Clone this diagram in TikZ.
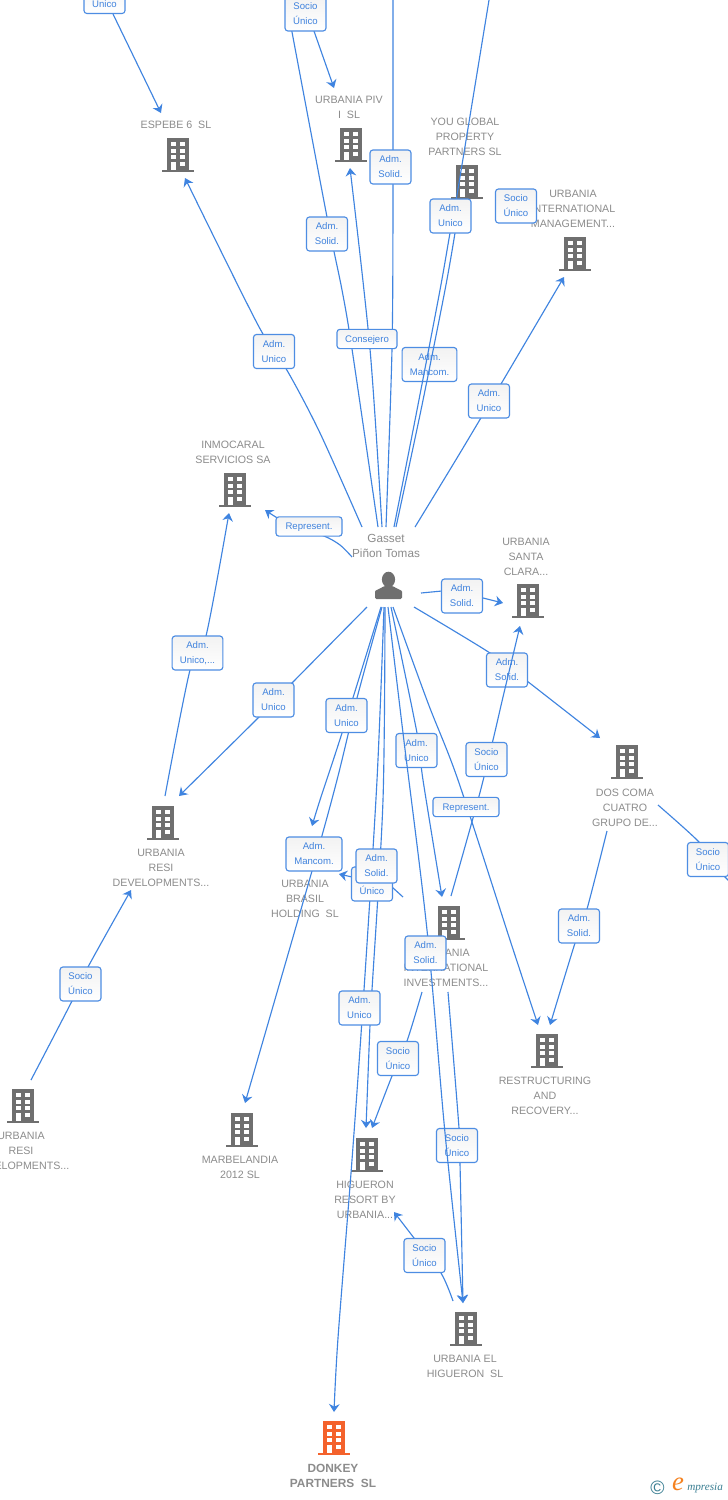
\documentclass[tikz,border=0pt]{standalone}
\usepackage{fontspec}
\setmainfont{Liberation Sans}
\newfontfamily\logoserif{Liberation Serif}
\usetikzlibrary{arrows.meta}
\pgfdeclarelayer{bgl}\pgfdeclarelayer{frontl}\pgfdeclarelayer{overl}\pgfdeclarelayer{topl}
\pgfsetlayers{bgl,main,frontl,overl,topl}
\definecolor{linec}{HTML}{3F84E0}
\definecolor{boxc}{HTML}{4D8DE3}
\definecolor{lblc}{HTML}{3F82DD}
\definecolor{txtc}{HTML}{8C8C8C}
\definecolor{iconc}{HTML}{6F6F6F}
\definecolor{orangec}{HTML}{F4622C}
\definecolor{tealc}{HTML}{3B7F93}
\definecolor{logoo}{HTML}{F58220}
\tikzset{
  edgeline/.style={draw=linec,line width=.85pt,line join=round},
  arrowline/.style={edgeline,-{Stealth[length=6pt,width=8pt,inset=2pt]}},
  lbl/.style={draw=boxc,line width=.85pt,rounded corners=2.2pt,top color=black!5,bottom color=white,
    text=lblc,align=center,inner sep=0pt,minimum width=30.75pt,minimum height=25.5pt,
    font=\fontsize{7.2}{11.25}\selectfont,execute at begin node={\rule{0pt}{6.7pt}}},
  lblone/.style={lbl,minimum height=14.5pt},
  nametext/.style={text=txtc,align=center,inner sep=0pt,yshift=-.75pt,font=\fontsize{8}{11.25}\selectfont},
  persontext/.style={nametext,font=\fontsize{8.8}{11.25}\selectfont},
  iconbox/.style={inner sep=0pt,minimum width=24pt,minimum height=25.5pt},
}
\newcommand\Bldg[4]{%
  \node[iconbox] (#1) at (#2,#3) {};
  \begin{scope}[shift={(#2,#3)}]
    \fill[#4] (-11,-17) rectangle (11,15);
    \fill[#4] (-16,14.5) rectangle (16,17);
    \foreach \yy in {-13.2,-6.4,0.2}{
      \fill[white] (-7.4,\yy) rectangle (-2.3,\yy+3.9);
      \fill[white] (2.3,\yy) rectangle (7.4,\yy+3.9);
    }
    \fill[white] (-7.4,7) rectangle (-2.3,14.5);
    \fill[white] (2.3,7) rectangle (7.4,11);
  \end{scope}}
\begin{document}
\begin{tikzpicture}[x=.75pt,y=-.75pt]
\useasboundingbox (0,0) rectangle (728,1500);
\begin{pgfonlayer}{bgl}
  \fill[white] (0,0) rectangle (728,1500);
  \Bldg{iEspebe}{178}{155}{iconc}
  \node[nametext] (tEspebe) at (176,124) {ESPEBE 6\ \ SL};
  \Bldg{iPiv}{351}{145}{iconc}
  \node[nametext] (tPiv) at (349,106.5) {URBANIA PIV\\I\ \ SL};
  \Bldg{iYou}{467}{182}{iconc}
  \node[nametext] (tYou) at (465,136) {YOU GLOBAL\\PROPERTY\\PARTNERS SL};
  \Bldg{iMgmt}{575}{254}{iconc}
  \node[nametext] (tMgmt) at (573,208) {URBANIA\\INTERNATIONAL\\MANAGEMENT...};
  \Bldg{iInmo}{235}{490}{iconc}
  \node[nametext] (tInmo) at (233,451.5) {INMOCARAL\\SERVICIOS SA};
  \Bldg{iClara}{528}{601}{iconc}
  \node[nametext] (tClara) at (526,556) {URBANIA\\SANTA\\CLARA...};
  \Bldg{iDos}{627}{762}{iconc}
  \node[nametext] (tDos) at (625,807) {DOS COMA\\CUATRO\\GRUPO DE...};
  \Bldg{iResiA}{163}{823}{iconc}
  \node[nametext] (tResiA) at (161,867) {URBANIA\\RESI\\DEVELOPMENTS...};
  \Bldg{iResiB}{23}{1106}{iconc}
  \node[nametext] (tResiB) at (21,1150) {URBANIA\\RESI\\DEVELOPMENTS...};
  \node[nametext] (tBrasil) at (305,898) {URBANIA\\BRASIL\\HOLDING\ \ SL};
  \Bldg{iInv}{449}{923}{iconc}
  \node[nametext] (tInv) at (446,967) {URBANIA\\INTERNATIONAL\\INVESTMENTS...};
  \Bldg{iRest}{547}{1051}{iconc}
  \node[nametext] (tRest) at (545,1095) {RESTRUCTURING\\AND\\RECOVERY...};
  \Bldg{iMarb}{242}{1130}{iconc}
  \node[nametext] (tMarb) at (240,1166.5) {MARBELANDIA\\2012 SL};
  \Bldg{iHig}{367}{1155}{iconc}
  \node[nametext] (tHig) at (365,1199) {HIGUERON\\RESORT BY\\URBANIA...};
  \Bldg{iElh}{466}{1329}{iconc}
  \node[nametext] (tElh) at (465,1365.5) {URBANIA EL\\HIGUERON\ \ SL};
  \Bldg{iDonkey}{334}{1438}{orangec}
  \node[nametext,font=\fontsize{8.9}{11.25}\selectfont\bfseries] (tDonkey) at (333,1474.5) {DONKEY\\PARTNERS\ \ SL};
  \node[persontext] (tGasset) at (386,544.5) {Gasset\\Piñon Tomas};
  \node[inner sep=0pt,minimum width=20pt,minimum height=20pt] (iGasset) at (388.5,586) {};
  \fill[iconc] (388.5,579.5) ellipse [x radius=6.6,y radius=7.8];
  \fill[iconc,rounded corners=1pt] (375,599) -- (375,593) .. controls (375,590) and (380,589) .. (384,586)
     -- (393,586) .. controls (397,589) and (402,590) .. (402,593) -- (402,599) -- cycle;
  \node[text=tealc,inner sep=0pt,font=\fontsize{14.5}{14.5}\selectfont] (logoC) at (657.5,1488) {©};
  \node[text=logoo,inner sep=0pt,font=\fontsize{20}{20}\logoserif\itshape] (logoE) at (678,1484) {e};
  \node[text=tealc,inner sep=0pt,anchor=west,font=\fontsize{8.4}{10}\logoserif\itshape] (logoT) at (687,1488) {mpresia};
\end{pgfonlayer}

% labels
\begin{pgfonlayer}{frontl}
  \node[lbl] (lTL) at (104.5,-3.5) {Adm.\\Unico};
  \node[lbl] (lSocioPiv) at (305.5,14) {Socio\\Único};
  \node[lbl] (lSolidPiv) at (390.5,167) {Adm.\\Solid.};
  \node[lbl] (lSolidB) at (327,234) {Adm.\\Solid.};
  \node[lbl] (lSocioYou) at (516,206) {Socio\\Único};
  \node[lblone,minimum width=45pt] (lCons) at (367,339) {Consejero};
  \node[lbl,minimum width=41pt] (lManc) at (429.5,364.5) {Adm.\\Mancom.};
  \node[lbl] (lEspebe) at (274,351.5) {Adm.\\Unico};
  \node[lbl] (lMgmt) at (489,401) {Adm.\\Unico};
  \node[lblone,minimum width=49.5pt] (lRepL) at (309,526.5) {Represent.};
  \node[lbl] (lClara) at (462,596) {Adm.\\Solid.};
  \node[lbl] (lDos) at (507,670) {Adm.\\Solid.};
  \node[lbl,minimum width=38pt] (lInmo) at (197.5,653) {Adm.\\Unico,...};
  \node[lbl] (lResi) at (273.5,700) {Adm.\\Unico};
  \node[lbl] (lBras) at (346.5,715.5) {Adm.\\Unico};
  \node[lbl] (lInvU) at (416.5,750.5) {Adm.\\Unico};
  \node[lbl,minimum width=42pt] (lManc2) at (314,854) {Adm.\\Mancom.};
  \node[lbl] (lSocioBras) at (372,884) {Socio\\Único};
  \node[lbl] (lSolidHig) at (376.5,866) {Adm.\\Solid.};
  \node[lbl] (lDonk) at (359.5,1008) {Adm.\\Unico};
  \node[lbl] (lSocioHig) at (398,1058.5) {Socio\\Único};
  \node[lbl] (lSocioElh) at (457,1145.5) {Socio\\Único};
  \node[lbl] (lSocioRes) at (424.5,1255.5) {Socio\\Único};
  \node[lbl] (lSolidRest) at (579,926) {Adm.\\Solid.};
  \node[lbl] (lSocioDos) at (708,859.5) {Socio\\Único};
  \node[lbl] (lSocioResi) at (80.5,984) {Socio\\Único};
\end{pgfonlayer}
\begin{pgfonlayer}{topl}
  \node[lbl] (lYou) at (450.5,216) {Adm.\\Unico};
  \node[lbl] (lSocioClara) at (486.5,759.5) {Socio\\Único};
  \node[lblone,minimum width=49.5pt] (lRepR) at (466,807) {Represent.};
  \node[lbl] (lSolidElh) at (425.5,953) {Adm.\\Solid.};
\end{pgfonlayer}

% connector ends
\coordinate (topA) at (362,527);   \coordinate (tipEspebe) at (185,178);
\coordinate (topB) at (378,527);   \coordinate (offB) at (285,-6);
\coordinate (topC) at (382,527);   \coordinate (tipPiv) at (350,168);
\coordinate (topD) at (386,527);   \coordinate (offD) at (393,-6);
\coordinate (topE) at (394,527);   \coordinate (offE) at (490,-6);
\coordinate (topF) at (396,527);   \coordinate (endF) at (457,218);
\coordinate (topG) at (415,527);   \coordinate (tipMgmt) at (564,277);
\coordinate (repFrom) at (352,557); \coordinate (tipInmoR) at (265,510);
\coordinate (rightA) at (421,593); \coordinate (tipClara) at (503,603);
\coordinate (rightB) at (414,607); \coordinate (tipDos) at (600,738);
\coordinate (leftA) at (367,607);  \coordinate (tipResi) at (179,796);
\coordinate (botA) at (381,607);   \coordinate (tipBras) at (312,826);
\coordinate (botB) at (382,607);   \coordinate (tipMarb) at (245,1103);
\coordinate (botC) at (384,607);   \coordinate (tipDonk) at (334,1412);
\coordinate (botD) at (385,607);   \coordinate (tipHigA) at (366,1128);
\coordinate (botE) at (388,607);   \coordinate (tipElhA) at (463,1303);
\coordinate (botF) at (391,607);   \coordinate (tipInv) at (442,897);
\coordinate (botG) at (393,607);   \coordinate (tipRestA) at (538,1025);
\coordinate (invUp) at (451,896);  \coordinate (tipClaraB) at (520,626);
\coordinate (resiUp) at (165,796); \coordinate (tipInmo) at (229,513);
\coordinate (resiB) at (31,1080);  \coordinate (tipResiA) at (131,890);
\coordinate (invBr) at (403,897);  \coordinate (tipBrasR) at (339,874);
\coordinate (dosA) at (607,831);   \coordinate (tipRestB) at (550,1025);
\coordinate (dosB) at (658,805);   \coordinate (offDos) at (731,883);
\coordinate (invA) at (422,992);   \coordinate (tipHigB) at (372,1128);
\coordinate (invB) at (448,992);   \coordinate (tipElhB) at (463,1303);
\coordinate (elhA) at (453,1301);  \coordinate (tipHigC) at (394,1212);

% connectors under the labels
\draw[arrowline] (lTL) -- (161,113);
\draw[arrowline] (308,14) -- (334,88);
\draw[arrowline] plot[smooth,tension=.5] coordinates {(topA) (320,433) (288,372) (258,325) (tipEspebe)};
\draw[edgeline] plot[smooth,tension=.5] coordinates {(topB) (352,349) (342,290) (327,217) (292,32) (offB)};
\draw[arrowline] plot[smooth,tension=.5] coordinates {(topC) (370,349) (tipPiv)};
\draw[edgeline] plot[smooth,tension=.5] coordinates {(topD) (392,349) (393,200) (offD)};
\draw[arrowline] plot[smooth,tension=.5] coordinates {(topG) (460,453) (501,384) (tipMgmt)};
\draw[arrowline] plot[smooth,tension=.5] coordinates {(repFrom) (340,545) (324,536) (290,525) (tipInmoR)};
\draw[arrowline] (rightA) -- (442,591) -- (483,598) -- (tipClara);
\draw[arrowline] plot[smooth,tension=.5] coordinates {(rightB) (490,653) (527,681) (tipDos)};
\draw[arrowline] plot[smooth,tension=.5] coordinates {(leftA) (292,683) (258,718) (tipResi)};
\draw[arrowline] plot[smooth,tension=.5] coordinates {(botA) (342,733) (320,800) (tipBras)};
\draw[arrowline] plot[smooth,tension=.5] coordinates {(botB) (357,698) (337,780) (312,871) (tipMarb)};
\draw[arrowline] plot[smooth,tension=.5] coordinates {(botC) (377,780) (364,990) (352,1160) (338,1338) (tipDonk)};
\draw[arrowline] plot[smooth,tension=.5] coordinates {(botD) (383,800) (372,990) (370,1025) (tipHigA)};
\draw[arrowline] plot[smooth,tension=.5] coordinates {(botF) (417,733) (423,780) (tipInv)};
\draw[arrowline] plot[smooth,tension=.5] coordinates {(botG) (428,703) (458,780) (510,940) (tipRestA)};
\draw[arrowline] plot[smooth,tension=.5] coordinates {(resiUp) (190,670) (206,636) (tipInmo)};
\draw[arrowline] plot[smooth,tension=.5] coordinates {(resiB) (72,1001) (88,967) (tipResiA)};
\draw[arrowline] (invBr) -- (392,887) -- (352,877) -- (tipBrasR);
\draw[arrowline] plot[smooth,tension=.5] coordinates {(dosA) (587,909) (575,943) (tipRestB)};
\draw[edgeline] plot[smooth,tension=.5] coordinates {(dosB) (699,842) (708,859) (offDos)};
\draw[arrowline] plot[smooth,tension=.5] coordinates {(invA) (407,1041) (392,1076) (tipHigB)};
\draw[arrowline] plot[smooth,tension=.5] coordinates {(invB) (459,1128) (460,1163) (tipElhB)};
\draw[arrowline] plot[smooth,tension=.5] coordinates {(elhA) (441,1273) (414,1238) (tipHigC)};

% connectors that run over some labels
\begin{pgfonlayer}{overl}
\draw[edgeline] plot[smooth,tension=.5] coordinates {(topE) (417,410) (440,290) (450,233) (457,195) (offE)};
\draw[edgeline] plot[smooth,tension=.5] coordinates {(topF) (421,410) (445,290) (455,233) (endF)};
\draw[arrowline] plot[smooth,tension=.5] coordinates {(invUp) (478,800) (493,740) (503,697) (tipClaraB)};
\draw[arrowline] plot[smooth,tension=.5] coordinates {(botE) (403,733) (427,930) (445,1133) (tipElhA)};
\end{pgfonlayer}
\end{tikzpicture}
\end{document}
